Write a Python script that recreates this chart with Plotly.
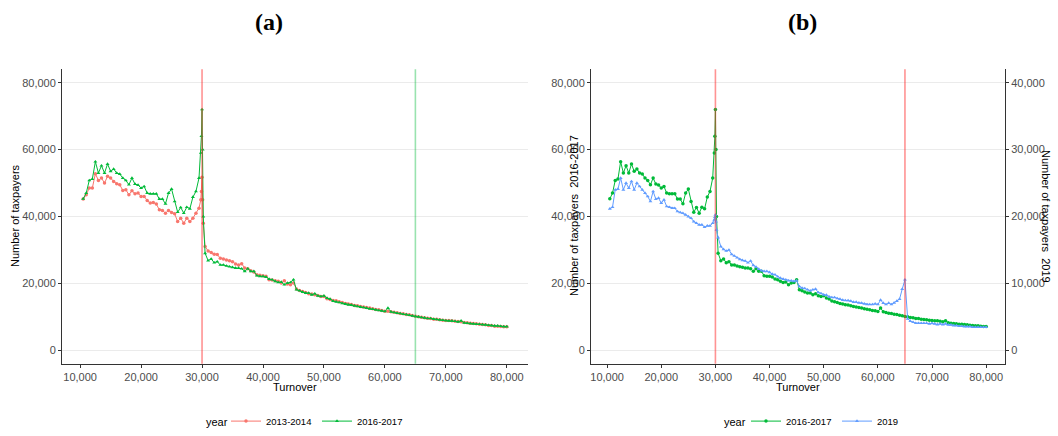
import plotly.graph_objects as go

# ---------------- data ----------------
TURNOVER = [
    10500, 11000, 11500, 12000, 12500, 13000, 13500, 14000, 14500, 15000,
    15500, 16000, 16500, 17000, 17500, 18000, 18500, 19000, 19500, 20000,
    20500, 21000, 21500, 22000, 22500, 23000, 23500, 24000, 24500, 25000,
    25500, 26000, 26500, 27000, 27500, 28000, 28500, 29000, 29500,
    29800, 29900, 30000, 30100, 30200, 30500,
    31000, 31500, 32000, 32500, 33000, 33500, 34000, 34500, 35000, 35500,
    36000, 36500, 37000, 37500, 38000, 38500, 39000, 39500, 40000, 40500,
    41000, 41500, 42000, 42500, 43000, 43500, 44000, 44500, 45000, 45500,
    46000, 46500, 47000, 47500, 48000, 48500, 49000, 49500, 50000, 50500,
    51000, 51500, 52000, 52500, 53000, 53500, 54000, 54500, 55000, 55500,
    56000, 56500, 57000, 57500, 58000, 58500, 59000, 59500, 60000, 60500,
    61000, 61500, 62000, 62500, 63000, 63500, 64000, 64500, 65000, 65500,
    66000, 66500, 67000, 67500, 68000, 68500, 69000, 69500, 70000, 70500,
    71000, 71500, 72000, 72500, 73000, 73500, 74000, 74500, 75000, 75500,
    76000, 76500, 77000, 77500, 78000, 78500, 79000, 79500, 80000,
]

Y_2013_2014 = [
    45200, 46500, 48500, 48500, 52800, 50800, 51500, 50000, 52000, 51500,
    50500, 49800, 49500, 47800, 48000, 46500, 47700, 46800, 47000, 46000,
    46000, 44800, 44000, 44200, 43700, 42000, 41800, 41000, 41800, 41200,
    40800, 38500, 39500, 38000, 39500, 38500, 39500, 41000, 42500,
    45000, 47500, 51700, 45000, 38000, 31000,
    29700, 29200, 28700, 28600, 27500, 27300, 27000, 26800, 26500, 25800,
    25500, 25900, 24600, 24400, 23800, 23400, 22600, 22400, 22300, 22100,
    21100, 21000, 20800, 20600, 20100, 20800, 19800, 19600, 20100, 18300,
    17900, 17600, 17300, 16900, 16800, 16600, 16400, 16100, 16100, 15400,
    15200, 14900, 14800, 14500, 14300, 14000, 13800, 13700, 13400, 13300,
    13100, 12900, 12800, 12600, 12400, 12200, 12100, 11900, 11700, 11700,
    11500, 11400, 11200, 11000, 10900, 10700, 10600, 10400, 10200, 10000,
    9900, 9700, 9600, 9500, 9300, 9300, 9100, 9000, 8900, 8900,
    8800, 8700, 8600, 8500, 8300, 8200, 8100, 8000, 7900, 7800,
    7700, 7600, 7400, 7400, 7200, 7200, 7100, 7000, 7000,
]

Y_2016_2017 = [
    45300, 47000, 50800, 51200, 56400, 53000, 55200, 53000, 55700, 53500,
    54200, 53000, 52700, 51500, 50800, 49500, 51500, 49700, 49400, 48500,
    49000, 47000, 46800, 46800, 46800, 45200, 45200, 43800, 47000, 48200,
    44500, 41300, 42700, 41000, 42800, 42300, 45800, 47500, 51500,
    59000, 64000, 72000, 60000, 40000, 29000,
    26800, 27300, 26200, 26500, 25500, 25500, 25200, 25000, 24800, 24600,
    24600, 24400, 23600, 24400, 23600, 23600, 22300, 22100, 22100, 21900,
    21300, 21100, 20600, 20300, 20400, 19600, 20100, 20300, 21100, 18100,
    17800, 17400, 17100, 17100, 16600, 16900, 16300, 16100, 16300, 15600,
    15300, 14700, 14500, 14300, 14000, 13800, 13600, 13500, 13300, 13100,
    12900, 12800, 12600, 12400, 12300, 12100, 11900, 11800, 11600, 12600,
    11500, 11300, 11100, 11000, 10800, 10700, 10500, 10300, 10100, 10000,
    9800, 9700, 9500, 9500, 9300, 9200, 9100, 9000, 8900, 8800,
    8800, 8700, 8500, 8800, 8200, 8100, 8000, 7900, 7800, 7800,
    7700, 7600, 7500, 7400, 7300, 7300, 7200, 7100, 7100,
]

# 2019 values (read on the right-hand axis)
Y_2019 = [
    21150, 21400, 24000, 24100, 25750, 24000, 25000, 24250, 25250, 24000,
    25000, 24500, 24000, 23500, 23000, 22250, 23750, 22600, 22750, 22000,
    22500, 21500, 21400, 21250, 21250, 20750, 20600, 20500, 20250, 20000,
    19750, 19250, 19000, 18750, 18750, 18400, 18600, 18600, 19000,
    19500, 19900, 20250, 19250, 18000, 16850,
    15500, 15100, 14850, 15000, 14350, 14100, 13850, 13600, 13450, 13350,
    13100, 13350, 12700, 12450, 12150, 11900, 11800, 11800, 11650, 11400,
    11300, 11000, 10800, 10650, 10550, 10400, 10400, 10300, 10400, 9550,
    9300, 9250, 9050, 8900, 9050, 9150, 8650, 8500, 8300, 8250,
    8000, 7900, 7900, 7750, 7650, 7500, 7450, 7450, 7350, 7200,
    7200, 7100, 7050, 6950, 6850, 6850, 6850, 6950, 6850, 7500,
    7050, 6850, 7050, 6850, 7100, 7350, 7650, 9150, 10550, 4700,
    4350, 4200, 4050, 4050, 4050, 4050, 4050, 3950, 4050, 3950,
    3850, 3950, 3850, 3950, 3800, 3800, 3700, 3700, 3600, 3600,
    3550, 3550, 3550, 3450, 3450, 3450, 3450, 3450, 3450,
]

X_TICKS = [10000, 20000, 30000, 40000, 50000, 60000, 70000, 80000]
Y_TICKS = [0, 20000, 40000, 60000, 80000]
Y2_TICKS = [0, 10000, 20000, 30000, 40000]
VLINES_A = [30000, 65000]
VLINES_B = [30000, 65000]

# ---------------- styling ----------------
RED = "#F8766D"
GREEN = "#00BA38"
BLUE = "#619CFF"
W, H = 1058, 436
FONT = "Liberation Sans, Arial, sans-serif"

def px_x(p):
    return p / W

def px_y(p):
    return 1 - p / H

XA = [px_x(62), px_x(528)]
XB = [px_x(591), px_x(1005)]
YD = [px_y(367), px_y(70)]
XRANGE = [7025, 83475]
YRANGE = [-4000, 84000]

fig = go.Figure()

def add_series(x, y, name, color, symbol, xaxis, yaxis, legend):
    fig.add_trace(go.Scatter(
        x=x, y=y, name=name, mode="lines+markers",
        line=dict(color=color, width=1),
        marker=dict(color=color, size=3.5, symbol=symbol),
        xaxis=xaxis, yaxis=yaxis, legend=legend,
    ))

add_series(TURNOVER, Y_2013_2014, "2013-2014", RED, "circle", "x", "y", "legend")
add_series(TURNOVER, Y_2016_2017, "2016-2017", GREEN, "triangle-up", "x", "y", "legend")
add_series(TURNOVER, Y_2016_2017, "2016-2017", GREEN, "circle", "x2", "y2", "legend2")
add_series(TURNOVER, Y_2019, "2019", BLUE, "triangle-up", "x2", "y3", "legend2")

tick_common = dict(
    ticks="outside", ticklen=3, tickwidth=1, tickcolor="#333333",
    tickfont=dict(family=FONT, size=11, color="#4D4D4D"),
    showline=True, linecolor="#333333", linewidth=1, zeroline=False,
    tickformat=",d",
)

legend_common = dict(
    orientation="h", yanchor="middle", xanchor="left",
    font=dict(family=FONT, size=9.5, color="#000"),
    itemwidth=30, entrywidth=46, bgcolor="rgba(0,0,0,0)", tracegroupgap=0,
)

fig.update_layout(
    width=W, height=H,
    margin=dict(l=0, r=0, t=0, b=0),
    paper_bgcolor="white", plot_bgcolor="white",
    showlegend=True,
    xaxis=dict(domain=XA, range=XRANGE, tickvals=X_TICKS, showgrid=False,
               anchor="y", **tick_common),
    yaxis=dict(domain=YD, range=YRANGE, tickvals=Y_TICKS, showgrid=True,
               gridcolor="#EBEBEB", gridwidth=1, anchor="x", **tick_common),
    xaxis2=dict(domain=XB, range=XRANGE, tickvals=X_TICKS, showgrid=False,
                anchor="y2", **tick_common),
    yaxis2=dict(domain=YD, range=YRANGE, tickvals=Y_TICKS, showgrid=True,
                gridcolor="#EBEBEB", gridwidth=1, anchor="x2", **tick_common),
    yaxis3=dict(range=[YRANGE[0] / 2, YRANGE[1] / 2], tickvals=Y2_TICKS,
                overlaying="y2", side="right", anchor="x2", showgrid=False,
                **tick_common),
    legend=dict(x=px_x(226), y=px_y(425), **legend_common),
    legend2=dict(x=px_x(746), y=px_y(425), **legend_common),
)

shapes = []
vcolors_a = ["rgba(255,40,40,0.5)", "rgba(0,186,56,0.4)"]
for v, c in zip(VLINES_A, vcolors_a):
    shapes.append(dict(type="line", xref="x", yref="paper", x0=v, x1=v,
                       y0=YD[0], y1=YD[1], line=dict(color=c, width=1.6),
                       layer="above"))
for v in VLINES_B:
    shapes.append(dict(type="line", xref="x2", yref="paper", x0=v, x1=v,
                       y0=YD[0], y1=YD[1],
                       line=dict(color="rgba(255,40,40,0.5)", width=1.6),
                       layer="above"))
fig.update_layout(shapes=shapes)

def note(text, x, y, size=11, angle=0, family=FONT):
    return dict(text=text, x=px_x(x), y=px_y(y), xref="paper", yref="paper",
                xanchor="center", yanchor="middle", showarrow=False,
                textangle=angle, font=dict(family=family, size=size, color="#000"))

ann = [
    note("<b>(a)</b>", 269, 22, size=24, family="Liberation Serif, serif"),
    note("<b>(b)</b>", 802, 22, size=24, family="Liberation Serif, serif"),
    note("Turnover", 295, 391),
    note("Turnover", 798, 391),
    note("Number of taxpayers", 15, 218, angle=-90),
    note("Number of taxpayers  2016-2017", 574, 218, angle=-90),
    note("Number of taxpayers  2019", 1046, 218, angle=90),
    note("year", 217, 426),
    note("year", 735, 426),
]
fig.update_layout(annotations=ann)

fig.write_html("out.html", config={"displayModeBar": False},
               post_script="document.body.style.margin='0px';")
